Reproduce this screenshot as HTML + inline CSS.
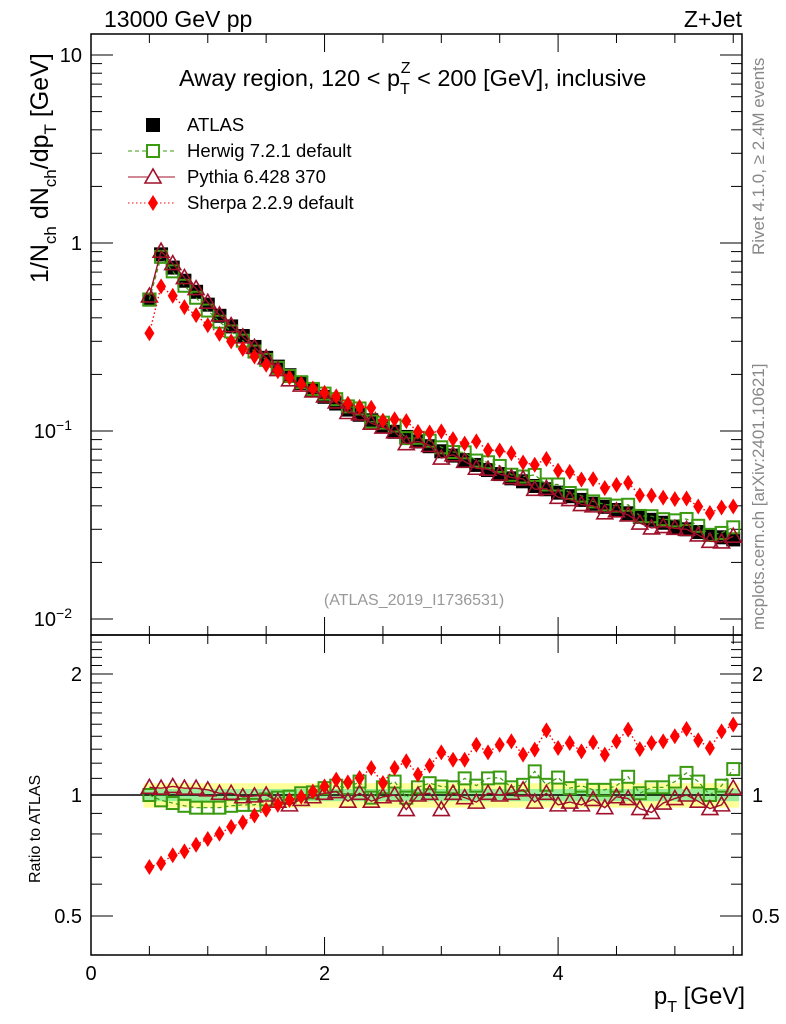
<!DOCTYPE html>
<html><head><meta charset="utf-8"><style>
body{margin:0;background:#fff;}
svg{display:block;font-family:"Liberation Sans",sans-serif;}
</style></head><body>
<svg id="c" width="786" height="1024" viewBox="0 0 786 1024"></svg>
<script>
const xVals=[0.5,0.6,0.7,0.8,0.9,1.0,1.1,1.2,1.3,1.4,1.5,1.6,1.7,1.8,1.9,2.0,2.1,2.2,2.3,2.4,2.5,2.6,2.7,2.8,2.9,3.0,3.1,3.2,3.3,3.4,3.5,3.6,3.7,3.8,3.9,4.0,4.1,4.2,4.3,4.4,4.5,4.6,4.7,4.8,4.9,5.0,5.1,5.2,5.3,5.4,5.5];
const atlas=[.50,.87,.74,.63,.55,.47,.41,.36,.32,.28,.245,.22,.198,.18,.165,.152,.14,.13,.122,.114,.106,.099,.093,.088,.083,.078,.074,.070,.066,.062,.059,.056,.054,.051,.049,.047,.045,.043,.041,.0395,.038,.0365,.035,.0337,.0325,.031,.030,.029,.028,.0272,.0265];
const herwigRatio=[1.00,.97,.955,.94,.93,.93,.93,.94,.945,.945,.975,.985,.99,1.01,1.015,1.04,1.055,1.04,1.08,.985,1.045,1.08,.985,1.045,1.07,1.05,1.045,1.10,1.055,1.10,1.105,1.045,1.06,1.145,1.06,1.105,1.04,1.055,1.03,1.03,1.055,1.11,1.01,1.045,1.045,1.08,1.135,1.08,1.00,1.055,1.16];
const pythiaRatio=[1.045,1.04,1.05,1.04,1.04,1.03,1.01,1.01,.99,.995,1.0,.965,.945,.975,.99,1.01,1.02,.965,1.01,.965,.99,1.0,.92,1.0,1.01,.92,1.01,.985,.96,1.01,1.0,1.01,1.03,.96,1.01,.945,.96,.945,.975,.93,.99,.98,.925,.905,.955,.98,1.0,.965,.925,.945,1.04];
const sherpaRatio=[.662,.676,.708,.724,.752,.777,.801,.833,.855,.889,.919,.945,.972,.99,1.02,1.051,1.092,1.075,1.102,1.167,1.071,1.167,1.213,1.124,1.183,1.277,1.224,1.224,1.334,1.277,1.334,1.36,1.26,1.297,1.448,1.309,1.347,1.284,1.352,1.26,1.36,1.454,1.301,1.347,1.36,1.40,1.459,1.368,1.309,1.44,1.496];
const xTicks=[0,2,4];
const mainTicks=[{v:10,l:"10"},{v:1,l:"1"},{v:0.1,l:"10"},{v:0.01,l:"10"}];
const ratioTicks=[0.5,1,2];

const S=document.getElementById('c');const NS="http://www.w3.org/2000/svg";
function el(t,a,p){const e=document.createElementNS(NS,t);for(const k in a)e.setAttribute(k,a[k]);(p||S).appendChild(e);return e;}
const L=91,R=742,T=34,MB=635,RB=955;
const X=v=>L+(v-0)*(R-L)/5.575;
const Y=v=>431-188*Math.log10(v/0.1);
const YR=v=>795-121*Math.log2(v);
const band=el('g',{});
el('rect',{x:X(0.45),y:YR(1.07),width:X(5.55)-X(0.45),height:YR(0.93)-YR(1.07),fill:'#ffff99'},band);
el('rect',{x:X(0.45),y:YR(1.035),width:X(5.55)-X(0.45),height:YR(0.965)-YR(1.035),fill:'#99ee99'},band);
el('line',{x1:L,x2:R,y1:YR(1),y2:YR(1),stroke:'#000','stroke-width':1.5},S);
const f1=el('rect',{x:L,y:T,width:R-L,height:MB-T,fill:'none',stroke:'#000','stroke-width':1.5});
const f2=el('rect',{x:L,y:MB,width:R-L,height:RB-MB,fill:'none',stroke:'#000','stroke-width':1.5});
for(let v=0;v<=5.5;v+=0.5){const big=Math.abs(v-Math.round(v/2)*2)<1e-6;const len=big?18:9;
 [[T,1],[MB,-1],[MB,1],[RB,-1]].forEach(([y,d])=>el('line',{x1:X(v),x2:X(v),y1:y,y2:y+d*len,stroke:'#000','stroke-width':1}));}
xTicks.forEach(v=>{const t=el('text',{x:X(v),y:980,'font-size':20,'text-anchor':'middle'});t.textContent=v;});
for(let d=-2;d<=1;d++){for(let m=1;m<10;m++){const v=m*Math.pow(10,d);const y=Y(v);if(y<T||y>MB)continue;const len=m==1?22:11;
 el('line',{x1:L,x2:L+len,y1:y,y2:y,stroke:'#000'});el('line',{x1:R,x2:R-len,y1:y,y2:y,stroke:'#000'});}}
mainTicks.forEach(t=>{const tx=el('text',{x:82,y:Y(t.v)+7,'font-size':20,'text-anchor':'end'});
 if(t.v<1){tx.setAttribute('x',72);tx.textContent=t.l;const s=el('tspan',{dy:-8,'font-size':14},tx);s.textContent=t.v==0.1?'−1':'−2';}else tx.textContent=t.l;});
for(let v=0.4;v<=2.5001;v+=0.1){const y=YR(v);if(y<MB||y>RB)continue;const big=Math.abs(v-0.5)<1e-6||Math.abs(v-1)<1e-6||Math.abs(v-2)<1e-6;const len=big?22:11;
 el('line',{x1:L,x2:L+len,y1:y,y2:y,stroke:'#000'});el('line',{x1:R,x2:R-len,y1:y,y2:y,stroke:'#000'});}
ratioTicks.forEach(v=>{[82,752].forEach((x,i)=>{const t=el('text',{x:x,y:YR(v)+7,'font-size':20,'text-anchor':i?'start':'end'});t.textContent=v;});});
function sq(g,x,y,fill,stroke){el('rect',{x:x-6,y:y-6,width:12,height:12,fill:fill,stroke:stroke,'stroke-width':2},g);}
function tri(g,x,y){el('polygon',{points:`${x},${y-8} ${x-8},${y+6} ${x+8},${y+6}`,fill:'none',stroke:'#a0102a','stroke-width':1.6},g);}
function dia(g,x,y){el('polygon',{points:`${x},${y-8} ${x-5},${y} ${x},${y+8} ${x+5},${y}`,fill:'#f00'},g);}
function series(name,yf,vals,draw,lineStyle){const g=el('g',{});
 if(lineStyle)el('polyline',Object.assign({points:vals.map((v,i)=>X(xVals[i])+','+yf(v)).join(' '),fill:'none'},lineStyle),g);
 vals.forEach((v,i)=>draw(g,X(xVals[i]),yf(v)));}
const hv=atlas.map((a,i)=>a*herwigRatio[i]),pv=atlas.map((a,i)=>a*pythiaRatio[i]),sv=atlas.map((a,i)=>a*sherpaRatio[i]);
series('atlas-data',Y,atlas,(g,x,y)=>sq(g,x,y,'#000','#000'));
series('herwig-series',Y,hv,(g,x,y)=>sq(g,x,y,'none','#3a9a10'),{stroke:'#3a9a10','stroke-dasharray':'4,3','stroke-width':1.2});
series('pythia-series',Y,pv,tri,{stroke:'#a0102a','stroke-width':1.4});
series('sherpa-series',Y,sv,dia,{stroke:'#f00','stroke-dasharray':'1.5,2.5','stroke-width':1.4});
series('herwig-ratio',YR,herwigRatio,(g,x,y)=>sq(g,x,y,'none','#3a9a10'),{stroke:'#3a9a10','stroke-dasharray':'4,3','stroke-width':1.2});
series('pythia-ratio',YR,pythiaRatio,tri,{stroke:'#a0102a','stroke-width':1.4});
series('sherpa-ratio',YR,sherpaRatio,dia,{stroke:'#f00','stroke-dasharray':'1.5,2.5','stroke-width':1.4});
const lg=el('g',{});
const rows=[['ATLAS',125],['Herwig 7.2.1 default',151],['Pythia 6.428 370',177],['Sherpa 2.2.9 default',203]];
rows.forEach(([t,y],i)=>{const e=el('g',{},lg);
 if(i==0)sq(e,153,y,'#000','#000');
 if(i==1){el('line',{x1:128,x2:175,y1:y,y2:y,stroke:'#3a9a10','stroke-dasharray':'4,3'},e);sq(e,153,y,'#fff','#3a9a10');}
 if(i==2){el('line',{x1:128,x2:175,y1:y,y2:y,stroke:'#a0102a'},e);el('polygon',{points:`153,${y-8} 145,${y+6} 161,${y+6}`,fill:'#fff',stroke:'#a0102a','stroke-width':1.6},e);}
 if(i==3){el('line',{x1:128,x2:175,y1:y,y2:y,stroke:'#f00','stroke-dasharray':'1.5,2.5'},e);dia(e,153,y);}
 const tx=el('text',{x:187,y:y+6,'font-size':18.5},e);tx.textContent=t;});
function txt(name,attrs,s){const t=el('text',attrs);t.textContent=s;return t;}
txt('energy-label',{x:104,y:27,'font-size':23},'13000 GeV pp');
txt('process-label',{x:742,y:27,'font-size':23,'text-anchor':'end'},'Z+Jet');
const ti=txt('plot-title',{x:179,y:86,'font-size':23.5},'Away region, 120 < p');
el('tspan',{dy:8,'font-size':16},ti).textContent='T';el('tspan',{dy:-21,dx:-9,'font-size':16},ti).textContent='Z';el('tspan',{dy:13,'font-size':23.5},ti).textContent=' < 200 [GeV], inclusive';
txt('analysis-id',{x:414,y:605,'font-size':16,'text-anchor':'middle',fill:'#999'},'(ATLAS_2019_I1736531)');
txt('rivet-label',{x:0,y:0,'font-size':17,fill:'#888',transform:'translate(764,255) rotate(-90)'},'Rivet 4.1.0, ≥ 2.4M events');
txt('mcplots-label',{x:0,y:0,'font-size':17,fill:'#888',transform:'translate(764,630) rotate(-90)'},'mcplots.cern.ch [arXiv:2401.10621]');
const yl=txt('y-axis-title',{x:0,y:0,'font-size':25,transform:'translate(48,283) rotate(-90)'},'1/N');
el('tspan',{dy:8,'font-size':17},yl).textContent='ch';el('tspan',{dy:-8},yl).textContent=' dN';el('tspan',{dy:8,'font-size':17},yl).textContent='ch';el('tspan',{dy:-8},yl).textContent='/dp';el('tspan',{dy:8,'font-size':17},yl).textContent='T';el('tspan',{dy:-8},yl).textContent=' [GeV]';
txt('ratio-axis-title',{x:0,y:0,'font-size':16,transform:'translate(40,883) rotate(-90)'},'Ratio to ATLAS');
const xl=txt('x-axis-title',{x:745,y:1004,'font-size':24,'text-anchor':'end'},'p');el('tspan',{dy:8,'font-size':16},xl).textContent='T';el('tspan',{dy:-8},xl).textContent=' [GeV]';
</script>
</body></html>
